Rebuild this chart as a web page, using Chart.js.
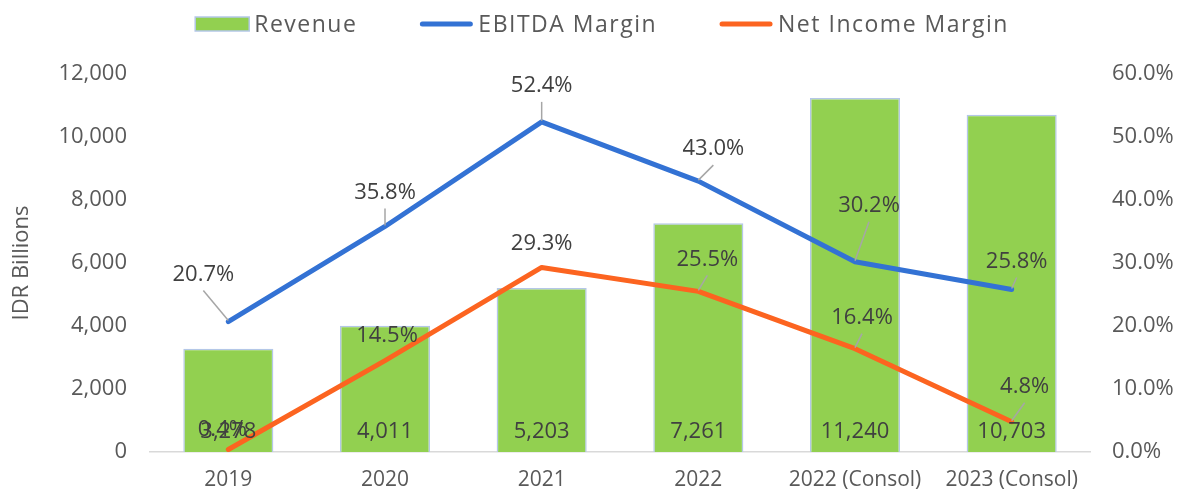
<!DOCTYPE html>
<html>
<head>
<meta charset="utf-8">
<script src="https://cdn.jsdelivr.net/npm/chart.js@4.4.1/dist/chart.umd.min.js"></script>
<style>
  html, body { margin: 0; padding: 0; background: #fff; }
  #wrap { width: 1186px; height: 492px; }
</style>
</head>
<body>
<div id="wrap"><canvas id="chart"></canvas></div>
<script>
// Chart data
const years = ['2019', '2020', '2021', '2022', '2022 (Consol)', '2023 (Consol)'];
const revenue = [3278, 4011, 5203, 7261, 11240, 10703];
const ebitdaMargin = [20.7, 35.8, 52.4, 43.0, 30.2, 25.8];
const netIncomeMargin = [0.4, 14.5, 29.3, 25.5, 16.4, 4.8];

const FONT = "'Open Sans', 'Noto Sans', sans-serif";
const GREEN = '#92D050';
const BLUE = '#3372D4';
const ORANGE = '#FC6420';
const TEXT = '#595959';

// where each margin label sits relative to its point: [dx, dy, leader line?]
const ebitdaLabelPos = [[-25, -47, true], [0, -34, true], [0, -36, true], [15, -32, true], [14, -56, true], [5, -28, true]];
const netLabelPos = [[-6, -20, false], [2, -25, false], [0, -24, false], [9, -32, true], [7, -31, true], [13, -35, true]];

// draws value labels on bars and margin labels with leader lines
const valueLabels = {
    id: 'valueLabels',
    afterDatasetsDraw(chart) {
        const ctx = chart.ctx;
        ctx.save();
        ctx.font = '22px ' + FONT;
        ctx.fillStyle = '#404040';
        ctx.textAlign = 'center';
        ctx.textBaseline = 'middle';

        const zeroY = chart.scales.y.getPixelForValue(0);
        chart.getDatasetMeta(0).data.forEach((bar, i) => {
            ctx.fillText(revenue[i].toLocaleString('en-US'), bar.x, zeroY - 20);
        });

        const drawLine = (metaIndex, values, pos) => {
            chart.getDatasetMeta(metaIndex).data.forEach((pt, i) => {
                const lx = pt.x + pos[i][0];
                const ly = pt.y + pos[i][1];
                if (pos[i][2]) {
                    ctx.strokeStyle = '#A6A6A6';
                    ctx.lineWidth = 1.5;
                    ctx.beginPath();
                    ctx.moveTo(lx, ly + 16);
                    ctx.lineTo(pt.x, pt.y - 1);
                    ctx.stroke();
                }
                ctx.fillText(values[i].toFixed(1) + '%', lx, ly);
            });
        };
        drawLine(1, ebitdaMargin, ebitdaLabelPos);
        drawLine(2, netIncomeMargin, netLabelPos);
        ctx.restore();
    }
};

// legend drawn across the top
const topLegend = {
    id: 'topLegend',
    afterDraw(chart) {
        const ctx = chart.ctx;
        ctx.save();
        ctx.font = '23px ' + FONT;
        ctx.letterSpacing = '1.5px';
        ctx.textBaseline = 'middle';
        ctx.textAlign = 'left';
        const items = chart.data.datasets.map(ds => ({ label: ds.label, type: ds.type, color: ds.type === 'bar' ? ds.backgroundColor : ds.borderColor }));
        const keyW = 54, keyGap = 5, itemGap = 62;
        let total = 0;
        items.forEach((it, i) => {
            it.w = keyW + keyGap + ctx.measureText(it.label).width;
            total += it.w + (i ? itemGap : 0);
        });
        let x = chart.width / 2 + 9 - total / 2;
        const y = 24;
        items.forEach(it => {
            if (it.type === 'bar') {
                ctx.fillStyle = it.color;
                ctx.fillRect(x, y - 7, keyW, 14);
                ctx.strokeStyle = '#B4C7E7';
                ctx.lineWidth = 1.5;
                ctx.strokeRect(x, y - 7, keyW, 14);
            } else {
                ctx.strokeStyle = it.color;
                ctx.lineWidth = 5;
                ctx.lineCap = 'round';
                ctx.beginPath();
                ctx.moveTo(x + 3, y);
                ctx.lineTo(x + keyW - 3, y);
                ctx.stroke();
            }
            ctx.fillStyle = TEXT;
            ctx.fillText(it.label, x + keyW + keyGap, y + 1);
            x += it.w + itemGap;
        });
        ctx.restore();
    }
};

const ctx = document.getElementById('chart').getContext('2d');
const chart = new Chart(ctx, {
    data: {
        labels: years,
        datasets: [{
            type: 'bar',
            label: 'Revenue',
            data: revenue,
            backgroundColor: GREEN,
            borderColor: '#B4C7E7',
            borderWidth: 1.5,
            categoryPercentage: 1,
            barPercentage: 0.575,
            yAxisID: 'y',
            order: 3
        }, {
            type: 'line',
            label: 'EBITDA Margin',
            data: ebitdaMargin,
            borderColor: BLUE,
            backgroundColor: BLUE,
            borderWidth: 5,
            borderCapStyle: 'round',
            borderJoinStyle: 'round',
            pointRadius: 0,
            tension: 0,
            yAxisID: 'y1',
            order: 1
        }, {
            type: 'line',
            label: 'Net Income Margin',
            data: netIncomeMargin,
            borderColor: ORANGE,
            backgroundColor: ORANGE,
            borderWidth: 5,
            borderCapStyle: 'round',
            borderJoinStyle: 'round',
            pointRadius: 0,
            tension: 0,
            yAxisID: 'y1',
            order: 2
        }]
    },
    options: {
        responsive: true,
        maintainAspectRatio: false,
        animation: false,
        layout: { padding: { top: 74, left: 0, right: 0, bottom: 0 } },
        plugins: {
            legend: { display: false },
            tooltip: { enabled: false }
        },
        scales: {
            x: {
                grid: { display: false, drawTicks: false },
                border: { display: true, color: '#D9D9D9', width: 1.5 },
                ticks: { color: TEXT, font: { family: FONT, size: 21 }, padding: 15, maxRotation: 0 },
                afterFit: scale => { scale.height = 40; }
            },
            y: {
                position: 'left',
                min: 0,
                max: 12000,
                grid: { display: false, drawTicks: false },
                border: { display: false },
                ticks: {
                    stepSize: 2000,
                    color: TEXT,
                    padding: 23,
                    font: { family: FONT, size: 22 },
                    callback: v => v.toLocaleString('en-US')
                },
                title: {
                    display: true,
                    text: 'IDR Billions',
                    color: TEXT,
                    font: { family: FONT, size: 22 },
                    padding: { top: 9, bottom: 0 }
                },
                afterFit: scale => { scale.width = 150; }
            },
            y1: {
                position: 'right',
                min: 0,
                max: 60,
                grid: { display: false, drawTicks: false },
                border: { display: false },
                ticks: {
                    stepSize: 10,
                    color: TEXT,
                    padding: 22,
                    font: { family: FONT, size: 22 },
                    callback: v => v.toFixed(1) + '%'
                },
                afterFit: scale => { scale.width = 96; }
            }
        }
    },
    plugins: [valueLabels, topLegend]
});
</script>
</body>
</html>
